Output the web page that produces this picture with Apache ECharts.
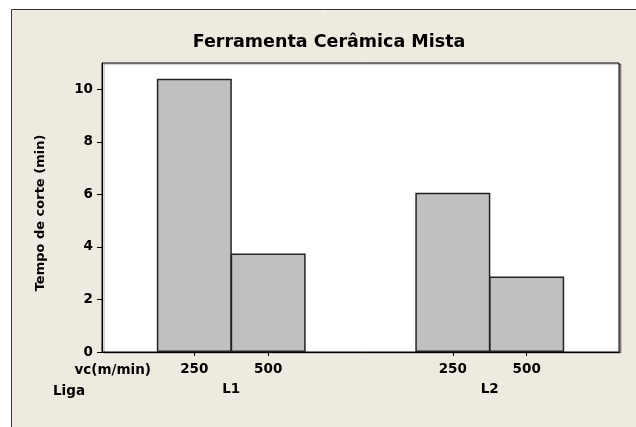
<!DOCTYPE html>
<html lang="pt">
<head>
    <meta charset="UTF-8">
    <title>Ferramenta Cerâmica Mista</title>
    <script src="https://cdn.jsdelivr.net/npm/echarts@6/dist/echarts.min.js"></script>
</head>
<body style="margin:0">
<div id="main" style="width: 636px;height:427px;"></div>
<script type="text/javascript">
    // categorias do eixo x (vazias = espaço entre grupos)
    var vcCats = ['', '', '', '', '', '250', '', '', '', '500', '', '', '', '', '',
        '', '', '', '', '250', '', '', '', '500', '', '', '', '', ''];
    var ligaCats = ['', '', '', '', '', '', '', 'L1', '', '', '', '', '', '', '',
        '', '', '', '', '', '', 'L2', '', '', '', '', '', '', ''];
    // tempo de corte (min): L1-250, L1-500, L2-250, L2-500
    var tempo = [10.4, 3.75, 6.06, 2.87];
    var yTicks = [0, 2, 4, 6, 8, 10];

    var k = 0;
    var barData = vcCats.map(function (c) { return c ? tempo[k++] : '-'; });

    var font = 'DejaVu Sans';
    var myChart = echarts.init(document.getElementById('main'));

    var option = {
        backgroundColor: '#ffffff',
        animation: false,
        textStyle: { fontFamily: font },
        graphic: [
            {
                type: 'rect', z: -100, silent: true,
                shape: { x: 11.5, y: 9.5, width: 700, height: 500 },
                style: { fill: '#eeeae0', stroke: '#333', lineWidth: 1 }
            },
            {
                type: 'text', silent: true,
                style: {
                    text: 'Ferramenta Cerâmica Mista', x: 329, y: 42,
                    font: 'bold 17.5px "DejaVu Sans"', fill: '#000',
                    textAlign: 'center', textVerticalAlign: 'middle'
                }
            },
            {
                type: 'text', silent: true,
                style: {
                    text: 'vc(m/min)', x: 151, y: 370,
                    font: 'bold 13.5px "DejaVu Sans"', fill: '#000',
                    textAlign: 'right', textVerticalAlign: 'middle'
                }
            },
            {
                type: 'text', silent: true,
                style: {
                    text: 'Liga', x: 53, y: 391,
                    font: 'bold 13.5px "DejaVu Sans"', fill: '#000',
                    textAlign: 'left', textVerticalAlign: 'middle'
                }
            }
        ],
        grid: {
            left: 102, top: 63, width: 517, height: 289,
            show: true, backgroundColor: '#ffffff',
            borderColor: '#000', borderWidth: 1,
            shadowColor: 'rgba(0,0,0,0.35)', shadowOffsetX: 2, shadowOffsetY: 1, shadowBlur: 0,
            outerBoundsMode: 'none'
        },
        xAxis: [
            {
                type: 'category', data: vcCats, boundaryGap: false,
                axisLine: { show: true, lineStyle: { color: '#000', width: 1 } },
                axisTick: {
                    show: true, length: 4, lineStyle: { color: '#000' },
                    interval: function (i, v) { return v !== ''; }
                },
                axisLabel: { interval: 0, margin: 10, color: '#000', fontWeight: 'bold', fontSize: 13.5 },
                splitLine: { show: false }
            },
            {
                type: 'category', data: ligaCats, boundaryGap: false, position: 'bottom', offset: 20,
                axisLine: { show: false }, axisTick: { show: false },
                axisLabel: { interval: 0, margin: 10, color: '#000', fontWeight: 'bold', fontSize: 13.5 },
                splitLine: { show: false }
            }
        ],
        yAxis: {
            type: 'value', min: 0, max: 11,
            name: 'Tempo de corte (min)', nameLocation: 'middle', nameGap: 55, nameRotate: 90,
            nameTextStyle: { color: '#000', fontWeight: 'bold', fontSize: 13, padding: [0, 11, 0, 0] },
            axisLine: { show: true, lineStyle: { color: '#000', width: 1 } },
            axisTick: { show: true, length: 5, customValues: yTicks, lineStyle: { color: '#000' } },
            axisLabel: { customValues: yTicks, margin: 9, color: '#000', fontWeight: 'bold', fontSize: 13.5 },
            splitLine: { show: false }
        },
        series: [
            {
                type: 'bar', xAxisIndex: 0, data: barData, barWidth: 75,
                itemStyle: { color: '#c0c0c0', borderColor: '#222', borderWidth: 1.5 }
            }
        ]
    };

    myChart.setOption(option);
</script>
</body>
</html>
